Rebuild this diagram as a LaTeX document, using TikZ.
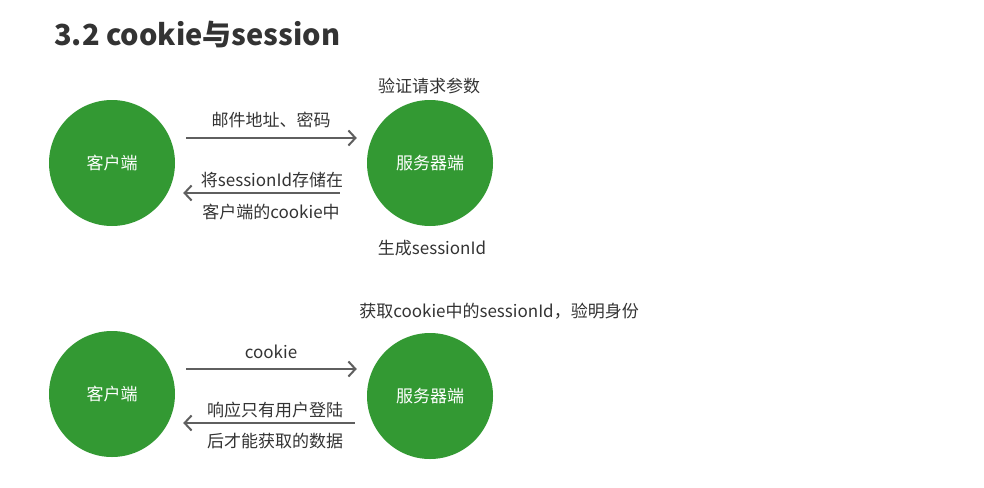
\documentclass[tikz,border=0pt]{standalone}
\usepackage{fontspec}
\setmainfont{Noto Sans CJK SC}
\usetikzlibrary{arrows.meta,positioning,calc}
\definecolor{ballgreen}{HTML}{339933}
\definecolor{arrowgray}{HTML}{5F5F5F}
\definecolor{txtgray}{HTML}{333333}
\tikzset{>={Straight Barb[length=7pt,width=15pt,line width=2pt]},
  ball/.style={circle, fill=ballgreen, minimum size=126pt, inner sep=0pt, text=white, font=\fontsize{17}{20}\selectfont},
  arr/.style={->, draw=arrowgray, line width=2.5pt},
  lbl/.style={text=txtgray, inner sep=0pt, font=\fontsize{17}{20}\selectfont}}

\begin{document}
\begin{tikzpicture}[x=1pt, y=1pt]
  \useasboundingbox (0,0) rectangle (984,-487);
  \node[anchor=west, text=txtgray, inner sep=0pt, font=\fontsize{29}{34}\selectfont\bfseries] (title) at (54,-35) {3.2 cookie与session};
  % login: client sends credentials
  \node[ball] (cli1) at (112,-163) {客户端};
  \node[ball] (srv1) at (430,-163) {服务器端};
  \draw[arr, shorten <=11pt, shorten >=10pt] ([yshift=25]cli1.east) -- ([yshift=25]srv1.west);
  \draw[arr, shorten <=27pt, shorten >=8pt] ([yshift=-30]srv1.west) -- ([yshift=-30]cli1.east);
  \node[lbl] (mail) at (271,-120) {邮件地址、密码};
  \node[lbl] (save1) at (272,-180) {将sessionId存储在};
  \node[lbl] (save2) at (271,-212) {客户端的cookie中};
  \node[lbl] (check) at (429,-86) {验证请求参数};
  \node[lbl] (make) at (432,-248) {生成sessionId};
  % later request with cookie
  \node[ball] (cli2) at (112,-394) {客户端};
  \node[ball] (srv2) at (430,-396) {服务器端};
  \draw[arr, shorten <=11pt, shorten >=10pt] ([yshift=25]cli2.east) -- ([yshift=27]srv2.west);
  \draw[arr, shorten <=12pt, shorten >=8pt] ([yshift=-27]srv2.west) -- ([yshift=-29]cli2.east);
  \node[lbl] (ck) at (271,-352) {cookie};
  \node[lbl] (resp1) at (275,-410) {响应只有用户登陆};
  \node[lbl] (resp2) at (275,-441) {后才能获取的数据};
  \node[lbl] (getid) at (499,-311) {获取cookie中的sessionId，验明身份};
\end{tikzpicture}
\end{document}
